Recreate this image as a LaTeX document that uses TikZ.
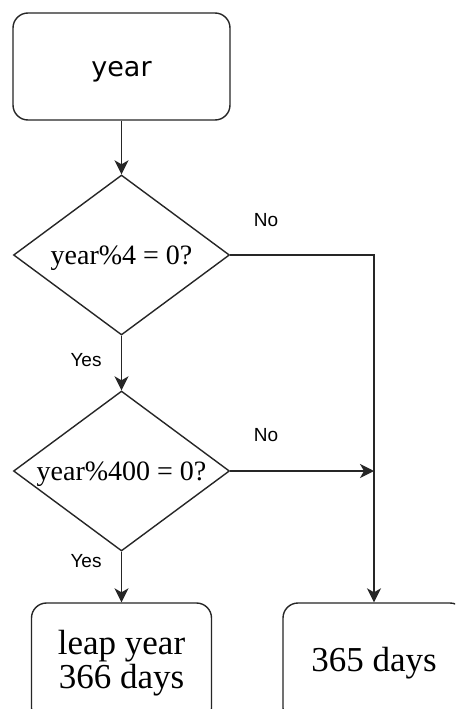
\documentclass[tikz,border=0pt]{standalone}
\usepackage{fontspec}
\setmainfont{Liberation Serif}
\newfontfamily\labelfont{Liberation Sans}
\newfontfamily\startfont{DejaVu Sans}
\usetikzlibrary{shapes.geometric,arrows.meta}
\definecolor{ink}{gray}{0.15}
\begin{document}
\begin{tikzpicture}[x=1pt,y=-1pt,
  line width=1.4pt,
  roundbox/.style={rectangle,rounded corners=15pt,draw=ink,inner sep=0pt,align=center},
  decision/.style={diamond,draw=ink,inner sep=0pt,minimum width=216pt,minimum height=160pt},
  question/.style={font=\fontsize{28}{30}\selectfont,yshift=-3pt},
  flow/.style={draw=ink,-{Stealth[length=14pt,width=14pt,inset=4pt]}},
  branch/.style={font=\labelfont\fontsize{19}{22}\selectfont,text=black}]
\useasboundingbox (0,0) rectangle (455,709);
\clip (0,0) rectangle (455,709);
\fill[white] (0,0) rectangle (455,709);

% start box
\node[roundbox,minimum width=217pt,minimum height=107pt,
      label={[font=\startfont\fontsize{27}{30}\selectfont,yshift=-5pt]center:year}]
      (start) at (121.5,66.5) {};

% decisions
\node[decision,label={[question]center:year\%4 = 0?}] (d1) at (121.5,255) {};
\node[decision,label={[question]center:year\%400 = 0?}] (d2) at (121.5,471) {};

% results
\node[roundbox,minimum width=180pt,minimum height=120pt,
      font=\fontsize{35}{34}\selectfont] (leap) at (121.5,663) {leap year\\366 days};
\node[roundbox,minimum width=182pt,minimum height=120pt,
      font=\fontsize{35}{34}\selectfont] (common) at (374,663) {365 days};

\coordinate (j1) at (374,255);
\coordinate (j2) at (374,471);

% connectors
\draw[flow] (start.south) -- (d1.north);
\draw[flow] (d1.south) -- (d2.north);
\draw[flow] (d2.south) -- (leap.north);
\draw[flow] (d1.east) -- (j1) -- (common.north);
\draw[flow] (d2.east) -- (j2);

% branch labels
\node[branch] (no1) at (266,220) {No};
\node[branch] (no2) at (266,435) {No};
\node[branch] (yes1) at (86,360) {Yes};
\node[branch] (yes2) at (86,561) {Yes};
\end{tikzpicture}
\end{document}
